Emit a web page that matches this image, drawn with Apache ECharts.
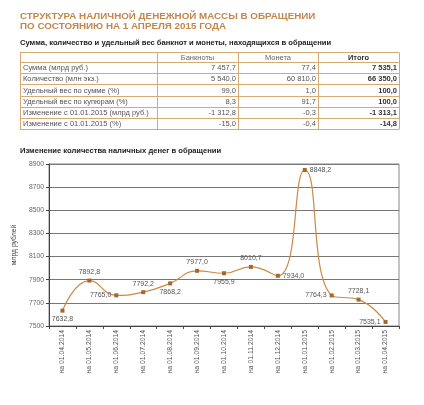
<!DOCTYPE html>
<html>
<head>
<meta charset="utf-8">
<script src="https://cdn.jsdelivr.net/npm/echarts@6/dist/echarts.min.js"></script>
<style>html,body{margin:0;padding:0;background:#fff}#c{width:424px;height:405px}</style>
</head>
<body>
<div id="c"></div>
<script>
// ---- data ----
const titleLines = ['СТРУКТУРА НАЛИЧНОЙ ДЕНЕЖНОЙ МАССЫ В ОБРАЩЕНИИ', 'ПО СОСТОЯНИЮ НА 1 АПРЕЛЯ 2015 ГОДА'];
const tableTitle = 'Сумма, количество и удельный вес банкнот и монеты, находящихся в обращении';
const tableHeader = ['', 'Банкноты', 'Монета', 'Итого'];
const rowLabels = ['Сумма (млрд руб.)', 'Количество (млн экз.)', 'Удельный вес по сумме (%)', 'Удельный вес по купюрам (%)', 'Изменение с 01.01.2015 (млрд руб.)', 'Изменение с 01.01.2015 (%)'];
const banknotes = ['7 457,7', '5 540,0', '99,0', '8,3', '-1 312,8', '-15,0'];
const coins = ['77,4', '60 810,0', '1,0', '91,7', '-0,3', '-0,4'];
const totals = ['7 535,1', '66 350,0', '100,0', '100,0', '-1 313,1', '-14,8'];
const chartTitle = 'Изменение количества наличных денег в обращении';
const yAxisName = 'млрд рублей';
const dates = ['на 01.04.2014', 'на 01.05.2014', 'на 01.06.2014', 'на 01.07.2014', 'на 01.08.2014', 'на 01.09.2014', 'на 01.10.2014', 'на 01.11.2014', 'на 01.12.2014', 'на 01.01.2015', 'на 01.02.2015', 'на 01.03.2015', 'на 01.04.2015'];
const cashValues = [7632.8, 7892.8, 7765.0, 7792.2, 7868.2, 7977.0, 7955.9, 8010.7, 7934.0, 8848.2, 7764.3, 7728.1, 7535.1];

// ---- build ----
function buildOption() {
  const FONT = '"Liberation Sans", Arial, sans-serif';
  const labelPos = ['bottom', 'top', 'left', 'top', 'bottom', 'top', 'bottom', 'top', 'right', 'right', 'left', 'top', 'left'];
  const g = [];
  const orange = '#c4864a';
  titleLines.forEach((t, i) => g.push({type: 'text', left: 20, top: 11 + i * 10.5,
    style: {text: t, font: 'bold 9.8px ' + FONT, fill: orange}}));
  g.push({type: 'text', left: 20, top: 38.5, style: {text: tableTitle, font: 'bold 7.6px ' + FONT, fill: '#222'}});
  g.push({type: 'text', left: 20, top: 146.5, style: {text: chartTitle, font: 'bold 7.6px ' + FONT, fill: '#222'}});
  // table
  const xs = [20, 157, 238, 318, 399];
  const y0 = 52, hh = 10, rh = 11.2;
  const ys = [y0, y0 + hh];
  for (let i = 1; i <= rowLabels.length; i++) ys.push(y0 + hh + i * rh);
  const border = '#d7aa74';
  ys.forEach(y => g.push({type: 'line', shape: {x1: xs[0], y1: Math.round(y) + 0.5, x2: xs[4], y2: Math.round(y) + 0.5}, style: {stroke: border, lineWidth: 1}}));
  xs.forEach(x => g.push({type: 'line', shape: {x1: x + 0.5, y1: Math.round(ys[0]) + 0.5, x2: x + 0.5, y2: Math.round(ys[ys.length - 1]) + 0.5}, style: {stroke: border, lineWidth: 1}}));
  const tf = '7.5px ' + FONT;
  const tfb = 'bold 7.5px ' + FONT;
  tableHeader.forEach((h, j) => {
    if (!h) return;
    g.push({type: 'text', x: (xs[j] + xs[j + 1]) / 2, y: y0 + hh / 2 + 0.5,
      style: {text: h, font: j === 3 ? tfb : tf, fill: j === 3 ? '#333' : '#666', align: 'center', verticalAlign: 'middle'}});
  });
  rowLabels.forEach((r, i) => {
    const cy = ys[i + 1] + rh / 2 + 0.5;
    g.push({type: 'text', x: 23, y: cy, style: {text: r, font: tf, fill: '#555', verticalAlign: 'middle'}});
    [banknotes, coins, totals].forEach((arr, k) => {
      g.push({type: 'text', x: xs[k + 2] - 2, y: cy,
        style: {text: arr[i], font: k === 2 ? tfb : tf, fill: k === 2 ? '#333' : '#555', align: 'right', verticalAlign: 'middle'}});
    });
  });

  return {
    animation: false,
    textStyle: {fontFamily: FONT},
    graphic: g,
    grid: {left: 49, right: 25, top: 164, bottom: 79, show: true, borderColor: '#888', borderWidth: 1, containLabel: false},
    xAxis: {
      type: 'category', data: dates, boundaryGap: true,
      axisLine: {lineStyle: {color: '#444', width: 1}},
      axisTick: {show: true, length: 3, lineStyle: {color: '#444'}},
      axisLabel: {rotate: 90, fontSize: 6.8, color: '#555', margin: 4, interval: 0}
    },
    yAxis: {
      type: 'value', min: 7500, max: 8900, interval: 200,
      name: yAxisName, nameLocation: 'middle', nameGap: 25, nameRotate: 90,
      nameTextStyle: {fontSize: 6.8, color: '#444'},
      axisLine: {show: true, lineStyle: {color: '#444', width: 1}},
      axisTick: {show: true, length: 3, lineStyle: {color: '#444'}},
      axisLabel: {fontSize: 6.8, color: '#666', margin: 5, formatter: v => String(v)},
      splitLine: {lineStyle: {color: '#777', width: 1}}
    },
    series: [{
      type: 'line', data: cashValues.map((v, i) => ({value: v, label: {position: labelPos[i]}})),
      smooth: 0.5,
      lineStyle: {color: '#cc8a45', width: 1.2},
      itemStyle: {color: '#a8652c'},
      symbol: 'rect', symbolSize: 4,
      label: {show: true, fontSize: 7, color: '#555', distance: 3,
        formatter: p => p.value.toFixed(1).replace('.', ',')}
    }]
  };
}
const chart = echarts.init(document.getElementById('c'), null, {renderer: 'canvas'});
chart.setOption(buildOption());
</script>
</body>
</html>
